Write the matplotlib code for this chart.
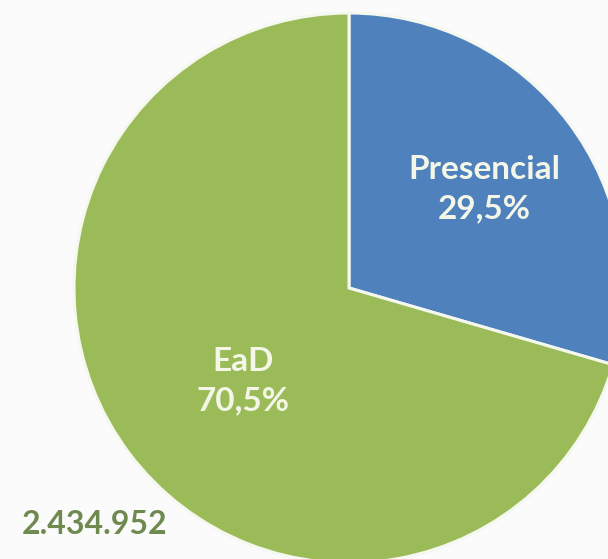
import matplotlib
matplotlib.use("Agg")
import matplotlib.pyplot as plt

# data
labels = ["Presencial", "EaD"]
shares = [29.5, 70.5]
pct_text = ["29,5%", "70,5%"]
total_text = "2.434.952"
colors = ["#4f81bd", "#9bbb59"]

fig = plt.figure(figsize=(6.08, 5.59), dpi=100, facecolor="#fbfbfb")
ax = fig.add_axes([0, 0, 1, 1])
ax.set_facecolor("#fbfbfb")

# pixel-like coordinates, y up
ax.pie(shares, colors=colors, startangle=90, counterclock=False,
       center=(349, 271), radius=275, frame=True,
       wedgeprops=dict(edgecolor="#f5f8ef", linewidth=2.2))
ax.set_xlim(0, 608)
ax.set_ylim(0, 559)
ax.set_aspect("equal")
ax.axis("off")

font = "Lato"
txt_color = "#f4f7e8"
ax.text(484, 559 - 189, labels[0] + "\n" + pct_text[0], ha="center", va="center",
        fontsize=24, fontweight="bold", color=txt_color, family=font, linespacing=1.45)
ax.text(243, 559 - 381, labels[1] + "\n" + pct_text[1], ha="center", va="center",
        fontsize=24, fontweight="bold", color=txt_color, family=font, linespacing=1.45)
ax.text(22, 559 - 525, total_text, ha="left", va="center",
        fontsize=23, fontweight="bold", color="#6f8a4f", family=font)

fig.savefig("out.png", dpi=100, facecolor=fig.get_facecolor())
